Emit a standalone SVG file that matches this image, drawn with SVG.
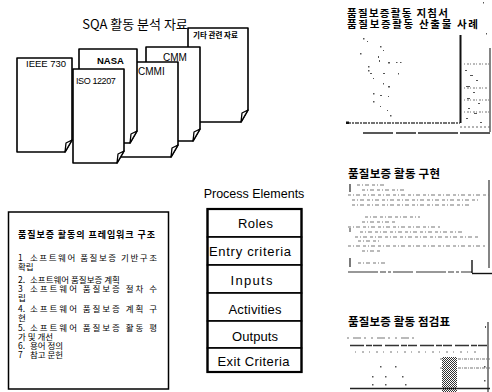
<svg xmlns="http://www.w3.org/2000/svg" width="492" height="392" viewBox="0 0 492 392">
<style>
.doc{fill:#fff;stroke:#000;stroke-width:1.6;stroke-linejoin:round}
.fold{fill:#fff;stroke:#000;stroke-width:1.3;stroke-linejoin:round}
.lbl{font-family:"Liberation Sans","Noto Sans CJK KR",Arial,sans-serif;fill:#000}
.kr{font-family:"Noto Sans CJK KR","Liberation Sans",sans-serif;fill:#000}
.krb{font-family:"Noto Sans CJK KR","Liberation Sans",sans-serif;font-weight:bold;fill:#000}
.pe{fill:#fff;stroke:#000;stroke-width:1.6}
.dash{stroke:#777;stroke-width:1.2;fill:none}
.dot{fill:#555}
</style>
<defs>
<pattern id="chk" width="2" height="2" patternUnits="userSpaceOnUse">
<rect width="2" height="2" fill="#fff"/>
<rect width="1" height="1" fill="#333"/>
<rect x="1" y="1" width="1" height="1" fill="#333"/>
</pattern>
</defs>

<text class="kr" x="135" y="29" font-size="13" text-anchor="middle">SQA 활동 분석 자료</text>

<g id="doc-other">
<path class="doc" d="M188,28 H248 V110 L241,122 H188 Z"/>
<path class="fold" d="M248,110 L242,113 L241,122 Z"/>
<text class="krb" x="193" y="37.5" font-size="7.5">기타 관련 자료</text>
</g>
<g id="doc-cmm">
<path class="doc" d="M146,47 H200 V129 L193,141 H146 Z"/>
<path class="fold" d="M200,129 L194,132 L193,141 Z"/>
<text class="lbl" x="163" y="61" font-size="10">CMM</text>
</g>
<g id="doc-cmmi">
<path class="doc" d="M110,62 H178 V145 L171,157 H110 Z"/>
<path class="fold" d="M178,145 L172,148 L171,157 Z"/>
<text class="lbl" x="138" y="75" font-size="10">CMMI</text>
</g>
<g id="doc-nasa">
<path class="doc" d="M79,49 H137 V131 L130,143 H79 Z"/>
<path class="fold" d="M137,131 L131,134 L130,143 Z"/>
<text class="lbl" x="97" y="64" font-size="9.5" font-weight="bold">NASA</text>
</g>
<g id="doc-iso">
<path class="doc" d="M73,69 H124 V151 L117,163 H73 Z"/>
<path class="fold" d="M124,151 L118,154 L117,163 Z"/>
<text class="lbl" x="76" y="84" font-size="9" letter-spacing="-0.4">ISO 12207</text>
</g>
<g id="doc-ieee">
<path class="doc" d="M17,58 H72 V140 L65,152 H17 Z"/>
<path class="fold" d="M72,140 L66,143 L65,152 Z"/>
<text class="lbl" x="26" y="67" font-size="9.5">IEEE 730</text>
</g>

<g id="framework">
<rect x="8.5" y="212" width="160" height="177" fill="#fff" stroke="#000" stroke-width="1.5"/>
<text class="krb" x="18" y="238" font-size="9" textLength="137">품질보증 활동의 프레임워크 구조</text>
<text class="kr" font-size="8.5">
<tspan x="18" y="260.5">1</tspan><tspan x="30" y="260.5" textLength="127">소프트웨어 품질보증 기반구조</tspan>
<tspan x="18" y="269.5">확립</tspan>
<tspan x="18" y="282.5">2.</tspan><tspan x="30" y="282.5">소프트웨어 품질보증 계획</tspan>
<tspan x="18" y="292">3</tspan><tspan x="30" y="292" textLength="127">소프트웨어 품질보증 절차 수</tspan>
<tspan x="18" y="301">립</tspan>
<tspan x="18" y="311.5">4.</tspan><tspan x="30" y="311.5" textLength="127">소프트웨어 품질보증 계획 구</tspan>
<tspan x="18" y="320.5">현</tspan>
<tspan x="18" y="331">5.</tspan><tspan x="30" y="331" textLength="127">소프트웨어 품질보증 활동 평</tspan>
<tspan x="18" y="340">가 및 개선</tspan>
<tspan x="18" y="349">6.</tspan><tspan x="30" y="349">용어 정의</tspan>
<tspan x="18" y="358">7</tspan><tspan x="30" y="358">참고 문헌</tspan>
</text>
</g>

<g id="process-elements">
<text class="lbl" x="254" y="197.5" font-size="12.5" text-anchor="middle">Process Elements</text>
<rect class="pe" x="207.5" y="209" width="94" height="28"/>
<rect class="pe" x="207.5" y="237" width="94" height="28"/>
<rect class="pe" x="207.5" y="265" width="94" height="28"/>
<rect class="pe" x="207.5" y="293" width="94" height="28"/>
<rect class="pe" x="207.5" y="321" width="94" height="27"/>
<rect class="pe" x="207.5" y="348" width="94" height="24"/>
<rect x="207.5" y="209" width="94" height="163" fill="none" stroke="#000" stroke-width="2.2"/>
<g class="lbl" font-size="13" text-anchor="middle">
<text x="255.5" y="228" textLength="35">Roles</text>
<text x="250" y="256" textLength="82">Entry criteria</text>
<text x="251.5" y="284.5" textLength="42">Inputs</text>
<text x="255" y="313.5" textLength="53">Activities</text>
<text x="255" y="341" textLength="46">Outputs</text>
<text x="253.5" y="365.5" textLength="72">Exit Criteria</text>
</g>
</g>

<g id="panel-guide">
<text class="krb" font-size="10.5"><tspan x="347" y="17" textLength="101">품질보증활동 지침서</tspan><tspan x="347" y="27.5" textLength="131">품질보증활동 산출물 사례</tspan></text>
<g class="dot">
<rect x="363" y="38" width="1.5" height="1.5"/><rect x="367" y="41" width="1" height="1"/>
<rect x="380" y="46" width="1.5" height="1.5"/><rect x="383" y="50" width="1" height="1"/>
<rect x="360" y="53" width="1.5" height="1.5"/><rect x="378" y="56" width="1" height="2"/>
<rect x="379" y="60" width="1" height="2"/><rect x="388" y="62" width="2" height="1.5"/>
<rect x="396" y="62" width="1.5" height="1"/><rect x="400" y="62" width="1.5" height="1"/>
<rect x="368" y="66" width="1.5" height="1.5"/><rect x="368" y="70" width="1.5" height="1.5"/>
<rect x="370" y="73" width="2" height="1"/><rect x="383" y="73" width="2" height="1"/>
<rect x="398" y="73" width="1" height="1.5"/><rect x="373" y="78" width="1" height="1"/>
<rect x="383" y="83" width="1" height="1.5"/><rect x="388" y="86" width="2" height="1.5"/>
<rect x="373" y="93" width="1.5" height="1.5"/><rect x="380" y="95" width="2" height="1"/>
<rect x="388" y="96" width="1" height="1"/><rect x="373" y="101" width="1.5" height="1.5"/>
<rect x="380" y="106" width="1" height="1"/><rect x="387" y="110" width="1" height="1"/>
<rect x="390" y="115" width="1.5" height="1.5"/>
<rect x="465" y="70" width="2" height="1"/><rect x="470" y="75" width="3" height="1"/>
<rect x="476" y="80" width="2" height="1"/><rect x="466" y="86" width="4" height="1"/>
<rect x="473" y="92" width="2" height="1"/><rect x="467" y="98" width="3" height="1"/>
<rect x="478" y="103" width="2" height="1"/><rect x="468" y="108" width="2" height="1"/>
<rect x="474" y="113" width="3" height="1"/><rect x="466" y="118" width="2" height="1"/>
<rect x="480" y="122" width="2" height="1"/><rect x="483" y="2" width="1" height="1.5"/>
<rect x="486" y="33" width="1" height="1.5"/>
</g>
<path class="dash" d="M464,64 H490 M464,88 H488 M464,100 H490 M464,112 H489" stroke-dasharray="1 2 2 1"/>
<line x1="460.5" y1="35" x2="460.5" y2="123" stroke="#111" stroke-width="2"/>
<line x1="490" y1="48" x2="490" y2="132" stroke="#333" stroke-width="1.2"/>
<line x1="347" y1="123" x2="460" y2="123" stroke="#444" stroke-width="1.3" stroke-dasharray="4 1 2 1"/>
<rect x="346" y="121.5" width="3" height="2.5" fill="#111"/>
<line x1="460" y1="127" x2="490" y2="127" stroke="#666" stroke-width="1" stroke-dasharray="2 2"/>
<line x1="363" y1="133" x2="490" y2="133" stroke="#222" stroke-width="1.4" stroke-dasharray="30 3 20 2 40 2"/>
</g>

<g id="panel-impl">
<text class="krb" x="348" y="177.5" font-size="11.5" textLength="92">품질보증 활동 구현</text>
<line x1="350" y1="184" x2="350" y2="192" stroke="#222" stroke-width="1.2"/>
<line x1="489" y1="180" x2="489" y2="268" stroke="#333" stroke-width="1.2"/>
<path class="dash" stroke-dasharray="3 2 1 2 4 3" d="M357,185 H385 M362,190 H405 M348,195 H490 M352,200 H478 M352,205 H470 M365,217 H420 M362,222 H395 M348,227 H440 M360,232 H465 M355,237 H478 M358,241 H380 M348,246 H485 M362,251 H380 M358,263 H385"/>
<line x1="350" y1="228" x2="350" y2="232" stroke="#333" stroke-width="1"/>
<line x1="350" y1="258" x2="350" y2="267" stroke="#222" stroke-width="1.2"/>
<line x1="348" y1="272" x2="472" y2="272" stroke="#333" stroke-width="1.2" stroke-dasharray="30 2 6 2 3 2 20 3"/>
<line x1="472" y1="260" x2="472" y2="273" stroke="#111" stroke-width="1.4"/>
<line x1="472" y1="273.5" x2="492" y2="273.5" stroke="#111" stroke-width="1.4"/>
</g>

<g id="panel-check">
<text class="krb" x="348" y="326" font-size="11.5" textLength="102">품질보증 활동 점검표</text>
<line x1="488" y1="322" x2="488" y2="392" stroke="#333" stroke-width="1.2"/>
<rect x="485" y="326" width="1" height="2" class="dot"/>
<path class="dash" stroke-dasharray="2 4 8 3 2 5" d="M347,338 H418"/>
<line x1="350" y1="345.5" x2="490" y2="345.5" stroke="#333" stroke-width="1.3" stroke-dasharray="14 2 6 1 9 3"/>
<path class="dash" stroke-dasharray="1 6 2 5" d="M355,352 H480"/>
<path class="dash" stroke-dasharray="3 1 1 1" d="M440,359 H490 M440,368 H490"/>
<rect x="442" y="357" width="15" height="35" fill="url(#chk)"/>
<g class="dot">
<rect x="380" y="366" width="1.5" height="1.5"/><rect x="395" y="366" width="1.5" height="1.5"/>
<rect x="372" y="376" width="1.5" height="1.5"/><rect x="385" y="376" width="1.5" height="1.5"/><rect x="402" y="376" width="1.5" height="1.5"/>
<rect x="372" y="384" width="1.5" height="1.5"/><rect x="385" y="384" width="1.5" height="1.5"/><rect x="405" y="384" width="1.5" height="1.5"/>
<rect x="484" y="366" width="1.5" height="1.5"/><rect x="484" y="380" width="1.5" height="1.5"/>
</g>
<line x1="350" y1="388.5" x2="490" y2="388.5" stroke="#222" stroke-width="1.3"/>
</g>
</svg>
